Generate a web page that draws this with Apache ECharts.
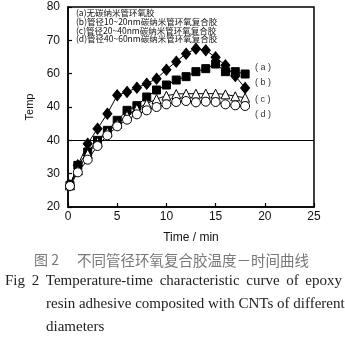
<!DOCTYPE html>
<html>
<head>
<meta charset="utf-8">
<script src="https://cdn.jsdelivr.net/npm/echarts@6/dist/echarts.min.js"></script>
<style>
html,body{margin:0;padding:0;background:#fff;}
#c{width:345px;height:339px;}
</style>
</head>
<body>
<div id="c"></div>
<script>
// time (min)
var time = [0.2, 1, 2, 3, 4, 5, 6, 7, 8, 9, 10, 11, 12, 13, 14, 15, 16, 17, 18];
// (a) no CNT - diamonds
var seriesA = [26.5, 32.5, 39, 43.5, 48, 53.5, 54.5, 55.8, 57, 58.5, 61.2, 63.6, 66, 67.5, 67, 64.9, 62.5, 59.3, 55.7];
// (b) 10~20nm - squares
var seriesB = [26.5, 32.5, 36.5, 40, 43, 46, 49, 50.4, 53, 55.1, 56.6, 58.1, 59.1, 60.6, 61.5, 62.9, 60.6, 60.6, 59.9];
// (c) 20~40nm - triangles
var seriesC = [26.5, 31, 36, 39.5, 42.5, 45, 47.5, 49.5, 51, 52.4, 53.4, 53.9, 54, 54, 54, 54, 53.8, 53.2, 52.8];
// (d) 40~60nm - circles
var seriesD = [26.3, 30.4, 34.2, 38.3, 41.5, 44.2, 46.2, 47.8, 49, 50, 50.8, 51.5, 51.8, 51.4, 51.6, 51.5, 50.8, 50.5, 50.3];

var xTickLabels = ['0', '5', '10', '15', '20', '25'];
var yTickLabels = ['20', '30', '40', '40', '60', '70', '80'];

var legendLines = [
  '(a)无碳纳米管环氧胶',
  '(b)管径10~20nm碳纳米管环氧复合胶',
  '(c)管径20~40nm碳纳米管环氧复合胶',
  '(d)管径40~60nm碳纳米管环氧复合胶'
];
var curveTags = ['( a )', '( b )', '( c )', '( d )'];
var captionCN = ['图 2', '不同管径环氧复合胶温度－时间曲线'];
var captionEN = [
  'Fig 2 Temperature-time characteristic curve of epoxy',
  'resin adhesive composited with CNTs of different',
  'diameters'
];

function pairs(ys) { return ys.map(function (v, i) { return [time[i], v]; }); }

var chart = echarts.init(document.getElementById('c'), null, {renderer: 'canvas'});
var sans = 'Liberation Sans, Arial, sans-serif';
var cjk = 'Noto Sans CJK SC, sans-serif';
var serif = 'Liberation Serif, Times New Roman, serif';

var graphics = [];
legendLines.forEach(function (t, i) {
  graphics.push({type: 'text', left: 76, top: 9 + i * 8.6, silent: true,
    style: {text: t, font: '8.5px ' + cjk, fill: '#111'}});
});
var tagY = [63, 78, 95, 110];
curveTags.forEach(function (t, i) {
  graphics.push({type: 'text', left: 255, top: tagY[i], silent: true,
    style: {text: t, font: '9px ' + sans, fill: '#333'}});
});
graphics.push({type: 'text', left: 34, top: 253, silent: true,
  style: {text: captionCN[0], font: '14px ' + cjk, fill: '#777'}});
graphics.push({type: 'text', left: 77, top: 253, silent: true,
  style: {text: captionCN[1], font: '14.5px ' + cjk, fill: '#777'}});

// justified first English line
var enFont = '15px ' + serif;
var mctx = document.createElement('canvas').getContext('2d');
mctx.font = enFont;
(function () {
  var words = captionEN[0].split(' ');
  var x0 = 5, x1 = 342;
  var total = 0;
  words.forEach(function (w) { total += mctx.measureText(w).width; });
  var gap = (x1 - x0 - total) / (words.length - 1);
  var x = x0;
  words.forEach(function (w) {
    graphics.push({type: 'text', left: x, top: 274, silent: true,
      style: {text: w, font: enFont, fill: '#222'}});
    x += mctx.measureText(w).width + gap;
  });
})();
graphics.push({type: 'text', left: 46, top: 297, silent: true,
  style: {text: captionEN[1], font: enFont, fill: '#222'}});
graphics.push({type: 'text', left: 46, top: 320, silent: true,
  style: {text: captionEN[2], font: enFont, fill: '#222'}});

function mkSeries(name, ys, symbol, filled, size, extra) {
  var s = {
    name: name, type: 'line', data: pairs(ys), symbol: symbol, symbolSize: size,
    showAllSymbol: true,
    lineStyle: {color: '#000', width: 1},
    itemStyle: {color: filled ? '#000' : '#fff', borderColor: '#000', borderWidth: 1},
    emphasis: {disabled: true}, animation: false
  };
  if (extra) { for (var k in extra) s[k] = extra[k]; }
  return s;
}

chart.setOption({
  animation: false,
  backgroundColor: '#fff',
  grid: {left: 68, top: 7, width: 246, height: 200, show: true, borderColor: '#000', borderWidth: 1.5, backgroundColor: 'transparent'},
  xAxis: {
    type: 'value', min: 0, max: 25, interval: 5,
    name: 'Time / min', nameLocation: 'middle', nameGap: 25,
    nameTextStyle: {fontFamily: sans, fontSize: 12, color: '#111'},
    axisLine: {lineStyle: {color: '#000', width: 1.5}},
    axisTick: {inside: true, length: 4, lineStyle: {color: '#000', width: 1.2}},
    axisLabel: {fontFamily: sans, fontSize: 12, color: '#111', margin: 4,
      formatter: function (v) { return xTickLabels[Math.round(v / 5)]; }},
    splitLine: {show: false}
  },
  yAxis: {
    type: 'value', min: 20, max: 80, interval: 10,
    name: 'Temp', nameLocation: 'middle', nameGap: 24, nameRotate: 90,
    nameTextStyle: {fontFamily: sans, fontSize: 11, color: '#111'},
    axisLine: {lineStyle: {color: '#000', width: 1.5}},
    axisTick: {inside: true, length: 4, lineStyle: {color: '#000', width: 1.2}},
    axisLabel: {fontFamily: sans, fontSize: 12, color: '#111', margin: 8,
      formatter: function (v) { return yTickLabels[Math.round((v - 20) / 10)]; }},
    splitLine: {show: false}
  },
  graphic: graphics,
  series: [
    mkSeries('a', seriesA, 'diamond', true, [9, 11], {
      markLine: {silent: true, symbol: 'none', label: {show: false},
        lineStyle: {color: '#000', width: 1, type: 'solid'},
        data: [{yAxis: 40}], animation: false}
    }),
    mkSeries('b', seriesB, 'rect', true, 8),
    mkSeries('c', seriesC, 'triangle', false, 9),
    mkSeries('d', seriesD, 'circle', false, 9)
  ]
});
</script>
</body>
</html>
